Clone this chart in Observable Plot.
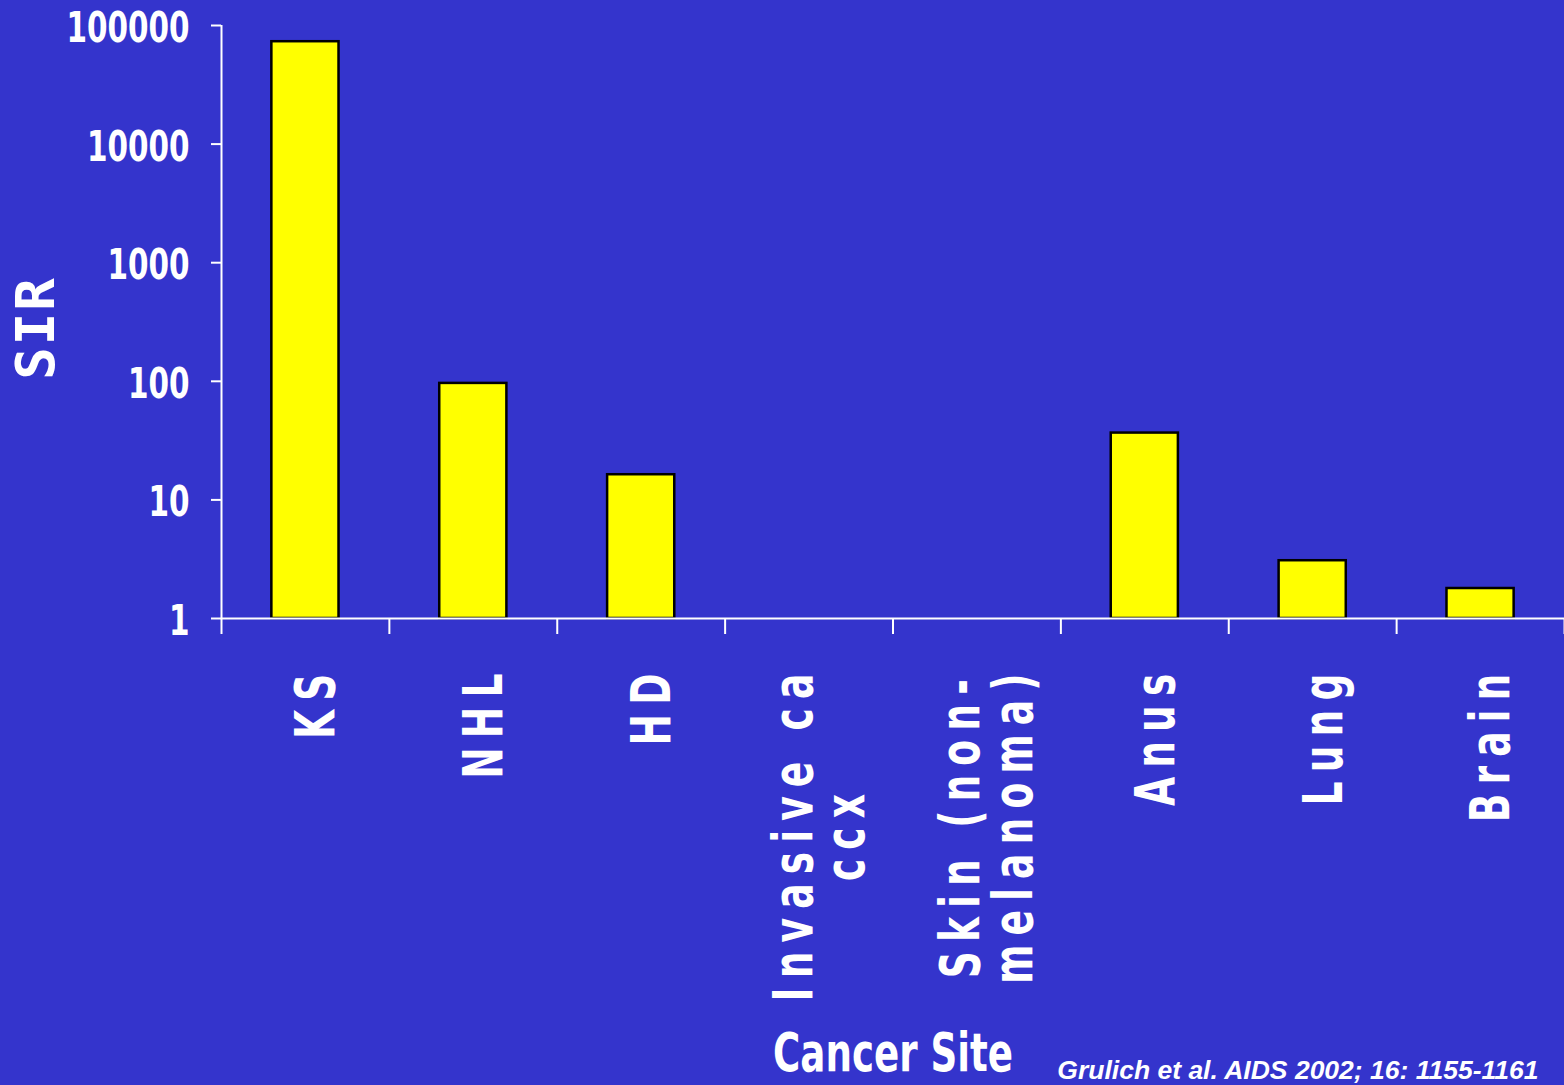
<!DOCTYPE html>
<html>
<head>
<meta charset="utf-8">
<script src="https://cdn.jsdelivr.net/npm/d3@7"></script>
<script src="https://cdn.jsdelivr.net/npm/@observablehq/plot@0.6"></script>
<style>
  html, body { margin: 0; padding: 0; background: #3434CC; }
  #chart svg { display: block; }
</style>
</head>
<body>
<div id="chart"></div>
<script>
// ---- data ----
const categories = ["KS", "NHL", "HD", "Invasive ca\nccx", "Skin (non-\nmelanoma)", "Anus", "Lung", "Brain"];
const sir = [73000, 96, 16.3, null, null, 36.6, 3.07, 1.79];
const yTicks = [1, 10, 100, 1000, 10000, 100000];
const yLabel = "SIR";
const xLabel = "Cancer Site";
const source = "Grulich et al. AIDS 2002; 16: 1155-1161";

const data = categories.map((c, i) => ({cat: c, i, v: sir[i]}));
const bounds = d3.range(categories.length + 1);

const BG = "#3434CC";
const COND = "'DejaVu Sans Condensed', 'DejaVu Sans', sans-serif";
const SQ = 0.76; // horizontal squeeze of the narrow bold face

const chart = Plot.plot({
  width: 1564,
  height: 1085,
  marginLeft: 221,
  marginRight: 0,
  marginTop: 25,
  marginBottom: 467,
  style: {background: BG, color: "white", overflow: "visible"},
  x: {domain: [0, categories.length], axis: null},
  y: {type: "log", domain: [1, 100000], axis: null},
  marks: [
    Plot.text(data, {
      x: d => d.i + 0.5, text: "cat", frameAnchor: "bottom",
      rotate: -90, textAnchor: "end", lineAnchor: "middle", lineHeight: 0.96,
      dy: 46, dx: 12, fill: "white", fontSize: 55, fontWeight: "bold", fontFamily: COND
    }),
    Plot.text([yLabel], {
      frameAnchor: "left", dx: -185, dy: 6, rotate: -90, textAnchor: "middle", lineAnchor: "middle",
      fill: "white", fontSize: 54, fontWeight: "bold", fontFamily: "'DejaVu Sans Mono', monospace"
    }),
    Plot.text([xLabel], {
      frameAnchor: "bottom", dy: 436, textAnchor: "middle", lineAnchor: "middle", fill: "white",
      fontSize: 53, fontWeight: "bold", fontFamily: COND
    }),
    Plot.text([source], {
      frameAnchor: "bottom-right", dx: -26, dy: 452, textAnchor: "end", lineAnchor: "middle", fill: "white",
      fontSize: 26.5, fontWeight: "bold", fontStyle: "italic", fontFamily: "'Liberation Sans', Arial, sans-serif"
    }),
    Plot.rectY(data.filter(d => d.v != null), {
      x1: d => d.i + 0.3, x2: d => d.i + 0.7, y1: 1, y2: "v",
      fill: "#FFFF00", stroke: "black", strokeWidth: 2.5
    }),
    Plot.axisX({ticks: bounds, tickSize: 16, tickFormat: () => "", stroke: "white", strokeWidth: 2, label: null}),
    Plot.axisY({
      ticks: yTicks, tickFormat: d => String(d), tickSize: 10, tickPadding: 22,
      stroke: "white", strokeWidth: 2, fill: "white", label: null,
      fontSize: 42, fontWeight: "bold", fontFamily: COND
    }),
    Plot.ruleY([1], {stroke: "white", strokeWidth: 2}),
    Plot.ruleX([0], {stroke: "white", strokeWidth: 2})
  ]
});

document.getElementById("chart").appendChild(chart);

function squeeze(t, sx, sy, shiftY = 0) {
  let tr = t.getAttribute("transform");
  if (!tr) {
    const x = +t.getAttribute("x") || 0, y = +t.getAttribute("y") || 0;
    t.removeAttribute("x"); t.removeAttribute("y");
    tr = `translate(${x},${y})`;
  }
  t.setAttribute("transform", `translate(0,${shiftY}) ${tr} scale(${sx},${sy})`);
}

const textGroups = chart.querySelectorAll('g[aria-label="text"]');
// category labels: letter spacing, centred lines, narrow face
if (textGroups[0]) {
  textGroups[0].querySelectorAll("text").forEach(t => {
    t.setAttribute("letter-spacing", "12");
    const spans = t.querySelectorAll("tspan");
    if (spans.length > 1) {
      let maxLen = 0;
      spans.forEach(s => { maxLen = Math.max(maxLen, s.getComputedTextLength()); });
      t.setAttribute("text-anchor", "middle");
      spans.forEach(s => s.setAttribute("x", -maxLen / 2));
    }
    squeeze(t, SQ, 1);
  });
}
if (textGroups[1]) textGroups[1].querySelectorAll("text").forEach(t => t.setAttribute("letter-spacing", "2"));
if (textGroups[2]) textGroups[2].querySelectorAll("text").forEach(t => squeeze(t, 0.78, 1));
const yTickLabels = chart.querySelector('g[aria-label="y-axis tick label"]');
if (yTickLabels) yTickLabels.querySelectorAll("text").forEach(t => squeeze(t, 0.78, 1, 3));
</script>
</body>
</html>
